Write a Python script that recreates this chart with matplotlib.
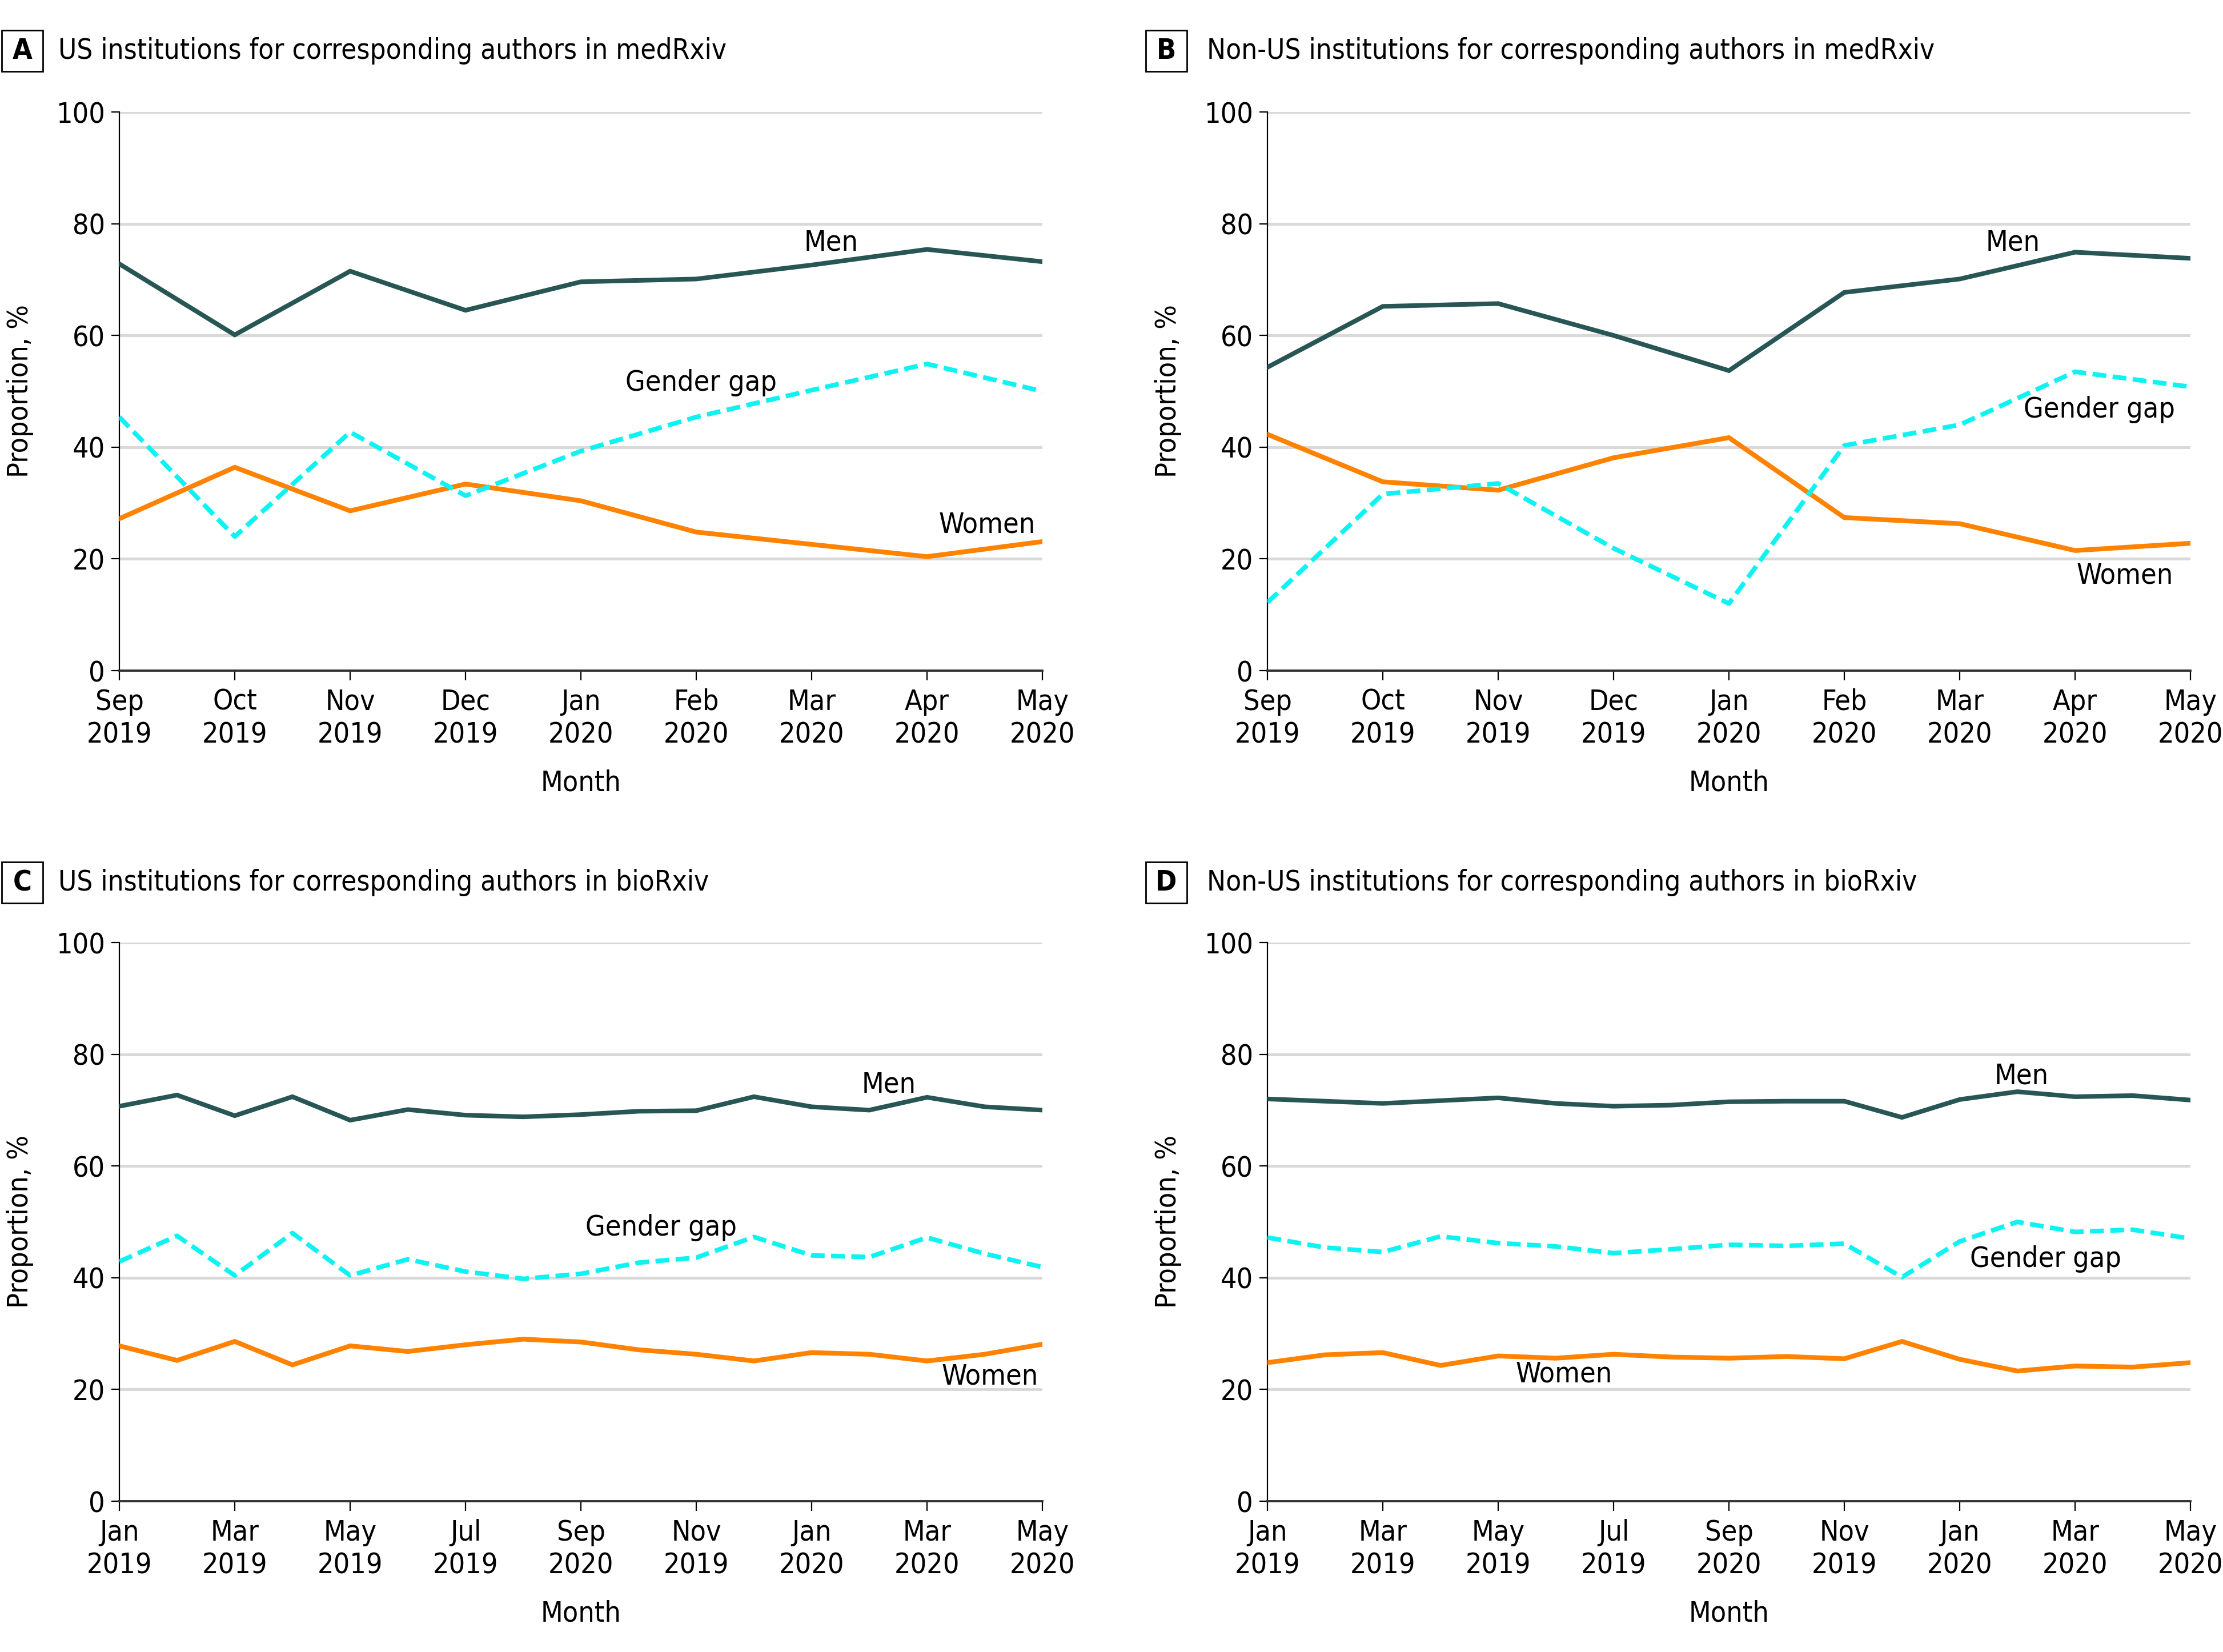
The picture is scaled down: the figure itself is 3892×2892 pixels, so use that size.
import matplotlib
matplotlib.use('Agg')
import matplotlib.pyplot as plt
from matplotlib import font_manager
from matplotlib.patches import Rectangle

# pick a narrow sans if one is there
names = {f.name for f in font_manager.fontManager.ttflist}
if 'Liberation Sans Narrow' in names:
    plt.rcParams['font.family'] = ['Liberation Sans Narrow', 'DejaVu Sans']
else:
    plt.rcParams['font.family'] = ['DejaVu Sans']
    plt.rcParams['font.stretch'] = 'condensed'

# ---- data ----
med_months = ['Sep\n2019', 'Oct\n2019', 'Nov\n2019', 'Dec\n2019', 'Jan\n2020',
              'Feb\n2020', 'Mar\n2020', 'Apr\n2020', 'May\n2020']
bio_ticks = ['Jan\n2019', 'Mar\n2019', 'May\n2019', 'Jul\n2019', 'Sep\n2020',
             'Nov\n2019', 'Jan\n2020', 'Mar\n2020', 'May\n2020']

a_men = [72.8, 60.1, 71.5, 64.5, 69.6, 70.1, 72.6, 75.4, 73.2]
a_women = [27.2, 36.4, 28.6, 33.4, 30.4, 24.8, 22.6, 20.4, 23.1]
a_gap = [45.4, 24.0, 42.7, 31.3, 39.3, 45.4, 50.2, 54.9, 50.0]

b_men = [54.3, 65.2, 65.7, 60.0, 53.7, 67.7, 70.1, 74.9, 73.8]
b_women = [42.3, 33.8, 32.3, 38.1, 41.7, 27.4, 26.3, 21.5, 22.8]
b_gap = [12.2, 31.6, 33.5, 21.9, 12.0, 40.3, 44.0, 53.5, 50.8]

c_men = [70.7, 72.7, 69.0, 72.4, 68.2, 70.1, 69.1, 68.8, 69.2, 69.8, 69.9,
         72.4, 70.6, 70.0, 72.3, 70.6, 70.0]
c_women = [27.8, 25.2, 28.6, 24.4, 27.8, 26.8, 28.0, 29.0, 28.5, 27.1, 26.3,
           25.1, 26.6, 26.3, 25.1, 26.3, 28.1]
c_gap = [42.9, 47.5, 40.4, 48.0, 40.4, 43.3, 41.1, 39.8, 40.7, 42.7, 43.6,
         47.3, 44.0, 43.7, 47.2, 44.3, 41.9]

d_men = [72.0, 71.6, 71.2, 71.7, 72.2, 71.2, 70.7, 70.9, 71.5, 71.6, 71.6,
         68.7, 71.9, 73.3, 72.4, 72.6, 71.8]
d_women = [24.8, 26.2, 26.6, 24.3, 26.0, 25.6, 26.3, 25.8, 25.6, 25.9, 25.5,
           28.6, 25.4, 23.3, 24.2, 24.0, 24.8]
d_gap = [47.2, 45.4, 44.6, 47.4, 46.2, 45.6, 44.4, 45.1, 45.9, 45.7, 46.1,
         40.1, 46.5, 50.0, 48.2, 48.6, 47.0]

MEN = '#285654'
WOMEN = '#FF8200'
GAP = '#0FF2F2'
FS = 18

W, H = 3892, 2892
fig = plt.figure(figsize=(W / 200, H / 200), dpi=200)


def px_axes(x0, x1, y0, y1):
    # pixel box -> figure fraction
    return fig.add_axes([x0 / W, 1 - y1 / H, (x1 - x0) / W, (y1 - y0) / H])


def panel(ax, men, women, gap, ticks, step, labels, letter, title, box_x, title_x, cy):
    x = list(range(len(men)))
    ax.plot(x, men, color=MEN, lw=2.9, solid_joinstyle='miter', zorder=3)
    ax.plot(x, women, color=WOMEN, lw=3.0, solid_joinstyle='miter', zorder=3)
    ax.plot(x, gap, color=GAP, lw=2.9, ls=(0, (3, 1.4)), zorder=4)
    ax.set_xlim(0, len(men) - 1)
    ax.set_ylim(0, 100)
    ax.set_yticks(range(0, 101, 20))
    ax.set_xticks(x[::step])
    ax.set_xticklabels(ticks, fontsize=FS, linespacing=1.25)
    ax.tick_params(axis='y', labelsize=FS, length=5, width=0.8, pad=4)
    ax.tick_params(axis='x', length=6, width=0.8, pad=5)
    ax.grid(axis='y', color='#d9d9d9', lw=1.8, zorder=0)
    ax.set_axisbelow(True)
    for s in ['top', 'right']:
        ax.spines[s].set_visible(False)
    ax.spines['left'].set_linewidth(0.8)
    ax.spines['bottom'].set_linewidth(1.4)
    ax.spines['bottom'].set_color('#333333')
    ax.set_xlabel('Month', fontsize=FS, labelpad=13)
    ax.set_ylabel('Proportion, %', fontsize=FS, labelpad=14)
    for txt, (lx, ly) in labels.items():
        ax.text(lx, ly, txt, fontsize=FS, ha='center', va='center', zorder=5)
    # panel letter box and title
    fig.add_artist(Rectangle((box_x / W, 1 - (cy + 36) / H), 72 / W, 72 / H,
                             transform=fig.transFigure, fill=False, ec='black', lw=1.0))
    fig.text((box_x + 36) / W, 1 - cy / H, letter, fontsize=FS, fontweight='bold',
             ha='center', va='center')
    fig.text(title_x / W, 1 - cy / H, title, fontsize=17.7, ha='left', va='center')


axA = px_axes(209, 1825, 196, 1174)
axB = px_axes(2219, 3835, 196, 1174)
axC = px_axes(209, 1825, 1650, 2628)
axD = px_axes(2219, 3835, 1650, 2628)

panel(axA, a_men, a_women, a_gap, med_months, 1,
      {'Men': (6.17, 76.6), 'Gender gap': (5.04, 51.5), 'Women': (7.52, 26.1)},
      'A', 'US institutions for corresponding authors in medRxiv', 3, 102, 89)
panel(axB, b_men, b_women, b_gap, med_months, 1,
      {'Men': (6.46, 76.6), 'Gender gap': (7.21, 46.7), 'Women': (7.43, 17.0)},
      'B', 'Non-US institutions for corresponding authors in medRxiv', 2006, 2113, 89)
panel(axC, c_men, c_women, c_gap, bio_ticks, 2,
      {'Men': (13.34, 74.6), 'Gender gap': (9.39, 49.0), 'Women': (15.09, 22.3)},
      'C', 'US institutions for corresponding authors in bioRxiv', 3, 102, 1545)
panel(axD, d_men, d_women, d_gap, bio_ticks, 2,
      {'Men': (13.07, 76.1), 'Gender gap': (13.49, 43.4), 'Women': (5.14, 22.8)},
      'D', 'Non-US institutions for corresponding authors in bioRxiv', 2006, 2113, 1545)

fig.savefig('out.png', dpi=200)
